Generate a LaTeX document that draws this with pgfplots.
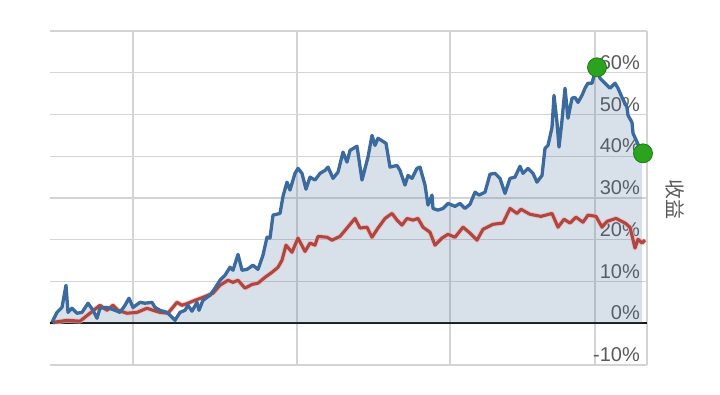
\documentclass[border=0pt]{standalone}
\usepackage{pgfplots}
\pgfplotsset{compat=1.18}
\usepackage{pgfplotstable}
\usepackage{fontspec}
\setmainfont{Liberation Sans}
\newfontfamily\cjk{Noto Sans CJK SC}
\definecolor{bline}{HTML}{3A6A9E}
\definecolor{rline}{HTML}{AF4641}
\definecolor{rhalo}{HTML}{EDB8B5}
\definecolor{afill}{HTML}{4A6F9C}
\definecolor{gridc}{HTML}{D4D4D4}
\definecolor{lab}{HTML}{5A5A5A}
\definecolor{dotg}{HTML}{2BA31F}
\definecolor{dotgd}{HTML}{1E7A16}

\pgfplotsset{
  layers/mylayers/.define layer set={
    axis background,axis grid,axis ticks,axis lines,pre main,main,axis tick labels,axis descriptions,axis foreground
  }{},
}

\pgfplotstableread{
x y
2 0.2
7 2.6
12 3.8
16 9.1
18 2.6
22 3.6
27 2.4
32 2.6
38 4.8
43 3.1
47 1.2
50 3.6
57 3.8
65 3.1
70 2.6
75 4.3
79 6.0
83 3.8
90 5.0
95 4.8
102 5.0
105 3.8
110 3.1
117 2.6
123 1.2
125 0.7
130 2.6
135 3.1
138 4.3
142 2.9
147 5.0
149 3.1
153 5.5
160 6.7
165 8.4
170 10.3
175 11.5
180 13.4
183 12.7
188 16.5
192 12.7
197 12.9
203 13.9
208 12.9
213 16.3
217 20.6
220 20.4
223 25.9
230 26.3
233 30.4
237 33.8
240 31.9
245 35.9
248 37.1
252 35.9
256 32.1
260 35.0
265 34.3
270 35.9
275 36.6
278 37.4
283 34.7
288 36.2
293 41.0
297 38.6
300 41.4
307 42.4
312 34.3
318 39.8
322 45.0
325 42.6
328 44.3
336 43.1
340 37.4
347 37.8
350 36.6
355 33.1
358 35.4
362 34.7
367 37.1
370 37.4
375 33.1
378 28.3
382 30.7
383 27.5
388 27.1
393 27.5
398 28.7
405 28.0
410 28.7
415 27.5
420 28.5
425 31.4
429 30.7
435 31.4
440 35.7
445 35.9
450 34.7
455 31.1
460 34.7
465 35.0
470 37.6
473 35.9
478 37.1
483 35.9
487 33.8
492 35.4
495 41.9
498 42.6
502 46.9
504 54.6
507 48.1
509 42.2
512 48.6
515 56.3
518 49.1
522 53.9
525 54.1
528 52.9
532 54.6
535 56.3
538 57.5
542 57.5
546 61.1
550 58.7
557 57.0
560 56.3
565 57.5
568 56.3
572 54.1
577 51.7
578 49.8
582 48.1
583 45.5
587 43.4
592 40.7
}\stock

\pgfplotstableread{
x y
3 0.2
17 0.7
30 0.5
40 2.4
50 4.3
57 3.1
63 4.3
68 3.1
77 2.4
87 2.6
97 3.6
103 3.1
110 2.6
118 2.4
127 5.0
132 4.3
138 4.8
145 5.5
153 6.2
163 7.2
170 9.1
178 10.3
183 9.8
188 10.3
195 8.4
202 9.3
208 9.6
215 11.0
222 12.2
228 13.4
232 15.1
236 18.7
242 17.0
248 20.4
255 17.2
260 19.2
265 18.7
268 20.8
277 20.6
282 19.9
290 20.8
297 22.8
305 25.1
310 22.8
317 23.0
322 20.6
328 22.8
335 25.1
342 26.3
347 24.7
352 23.5
357 25.1
363 24.7
368 25.1
373 23.0
380 21.8
385 18.7
392 20.4
398 21.3
405 20.6
413 23.0
420 21.6
427 19.9
433 22.5
443 23.7
453 24.0
460 27.5
467 26.3
471 27.3
480 26.1
491 25.6
502 26.3
508 23.0
514 24.9
520 24.0
526 25.4
533 24.2
538 25.9
546 25.6
552 23.0
557 24.4
566 25.1
575 24.0
580 23.0
585 18.0
588 20.1
592 19.2
595 19.9
}\bench

\begin{document}
\begin{tikzpicture}
\begin{axis}[
  set layers=mylayers,
  scale only axis,
  width=597pt, height=334pt,
  xmin=0, xmax=597, ymin=-10, ymax=70,
  axis line style={draw=none},
  xtick={83,247,400,545,597},
  xticklabels={},
  ytick={-10,0,10,20,30,40,50,60,70},
  yticklabels={-10\%,0\%,10\%,20\%,30\%,40\%,50\%,60\%,{}},
  yticklabel pos=right,
  yticklabel style={anchor=south east, inner sep=0pt, xshift=-7pt, yshift=3pt,
    text=lab, font=\fontsize{20}{22}\selectfont},
  major tick length=0pt,
  grid=major,
  major grid style={gridc, line width=1.3pt},
  extra y ticks={0},
  extra y tick labels={},
  extra y tick style={grid=major, major grid style={black!90, line width=1.6pt}},
  clip=false,
]
\addplot[fill=afill, fill opacity=0.215, draw=none] table {\stock} \closedcycle;
\addplot[rhalo, line width=5pt, opacity=0.7, line join=round] table {\bench};
\addplot[rline, line width=3.1pt, line join=round] table {\bench};
\addplot[bline, line width=3.3pt, line join=round] table {\stock};
\addplot[on layer=axis foreground, only marks, mark=*, mark size=9.5pt, mark options={fill=dotg, draw=dotgd, line width=0.8pt}]
  coordinates {(547,61.3) (593,40.7)};
\node[rotate=-90, text=lab, font=\cjk\fontsize{20}{22}\selectfont] at ([xshift=28pt]rel axis cs:1,0.494) {收益};
\end{axis}
\path[use as bounding box] ([shift={(-50pt,-30pt)}]current axis.south west) rectangle ([shift={(73pt,31pt)}]current axis.north east);
\end{tikzpicture}
\end{document}
